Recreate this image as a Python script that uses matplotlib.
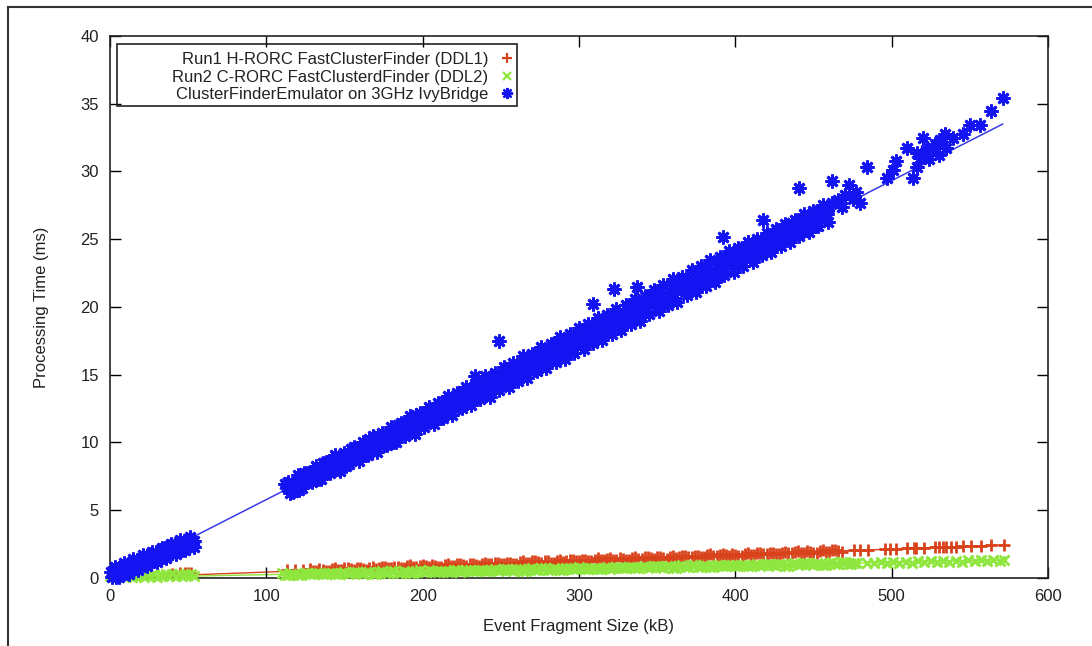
import matplotlib.pyplot as plt
from matplotlib.lines import Line2D
from matplotlib.patches import Rectangle

plt.rcParams['font.family'] = ['Liberation Sans', 'DejaVu Sans']

# Legend labels
labels = ['Run1 H-RORC FastClusterFinder (DDL1)',
          'Run2 C-RORC FastClusterdFinder (DDL2)',
          'ClusterFinderEmulator on 3GHz IvyBridge']

# Run1 H-RORC (red +)
red_x = [40, 45, 48, 50, 52, 113, 118.4, 123.7,
         128, 132, 136, 140, 144, 148, 152, 156, 160, 164,
         168, 172, 176, 180, 184, 188, 192, 196, 200, 204,
         208, 212, 216, 220, 224, 228, 232, 236, 240, 244,
         248, 252, 256, 260, 264, 268, 272, 276, 280, 284,
         288, 292, 296, 300, 304, 308, 312, 316, 320, 324,
         328, 332, 336, 340, 344, 348, 352, 356, 360, 364,
         368, 372, 376, 380, 384, 388, 392, 396, 400, 404,
         408, 412, 416, 420, 424, 428, 432, 436, 440, 444,
         448, 452, 456, 460, 464, 468,
         475.7, 480, 484.6, 496, 499, 502.6, 510, 514, 515.4, 520.5,
         528, 530, 532.6, 534.6, 537.8, 541, 545.5, 550.6, 557, 563.4, 571.7]
red_y = [0.30, 0.35, 0.40, 0.40, 0.38, 0.57, 0.60, 0.62,
         0.63, 0.51, 0.61, 0.52, 0.72, 0.61, 0.74, 0.61, 0.71, 0.62,
         0.82, 0.71, 0.84, 0.72, 0.81, 0.72, 0.93, 0.81, 0.94, 0.82,
         0.91, 0.82, 1.03, 0.92, 1.04, 0.92, 1.02, 0.92, 1.13, 1.02,
         1.14, 1.02, 1.12, 1.03, 1.23, 1.12, 1.25, 1.12, 1.22, 1.13,
         1.33, 1.22, 1.35, 1.23, 1.32, 1.23, 1.44, 1.32, 1.45, 1.33,
         1.42, 1.33, 1.54, 1.43, 1.55, 1.43, 1.53, 1.43, 1.64, 1.53,
         1.65, 1.53, 1.63, 1.54, 1.74, 1.63, 1.76, 1.63, 1.73, 1.64,
         1.84, 1.73, 1.86, 1.74, 1.83, 1.74, 1.95, 1.83, 1.96, 1.84,
         1.93, 1.84, 2.05, 1.94, 2.06, 1.94,
         2.03, 2.05, 2.07, 2.12, 2.13, 2.15, 2.18, 2.20, 2.20, 2.22,
         2.25, 2.26, 2.27, 2.28, 2.30, 2.31, 2.33, 2.35, 2.38, 2.40, 2.44]
red_row2_x = [130, 134, 138, 142, 146, 150, 154, 158, 162, 166,
              170, 174, 178, 182, 186, 190, 194, 198, 202, 206,
              210, 214, 218, 222, 226, 230, 234, 238, 242, 246,
              250, 254, 258, 262, 266, 270, 274, 278, 282, 286,
              290, 294, 298, 302, 306, 310, 314, 318, 322, 326,
              330, 334, 338, 342, 346, 350, 354, 358, 362, 366,
              370, 374, 378, 382, 386, 390, 394, 398, 402, 406,
              410, 414, 418, 422, 426, 430, 434, 438, 442, 446,
              450, 454, 458, 462, 466]
red_row2_y = [0.54, 0.63, 0.53, 0.64, 0.59, 0.71, 0.65, 0.73, 0.63, 0.75,
              0.69, 0.81, 0.75, 0.83, 0.73, 0.85, 0.80, 0.91, 0.85, 0.94,
              0.83, 0.95, 0.90, 1.01, 0.95, 1.04, 0.94, 1.05, 1.00, 1.12,
              1.05, 1.14, 1.04, 1.15, 1.10, 1.22, 1.15, 1.24, 1.14, 1.26,
              1.20, 1.32, 1.26, 1.34, 1.24, 1.36, 1.30, 1.42, 1.36, 1.45,
              1.34, 1.46, 1.41, 1.52, 1.46, 1.55, 1.44, 1.56, 1.51, 1.63,
              1.56, 1.65, 1.55, 1.66, 1.61, 1.73, 1.66, 1.75, 1.65, 1.77,
              1.71, 1.83, 1.77, 1.85, 1.75, 1.87, 1.82, 1.93, 1.87, 1.96,
              1.85, 1.97, 1.92, 2.03, 1.97]
red_fit_x = [0, 572]
red_fit_y = [0.01, 2.44]

# Run2 C-RORC (green x)
green_x = [0, 2, 4, 6, 8, 10, 12, 14, 16, 18, 20, 22, 24, 26,
           28, 30, 32, 34, 36, 38, 40, 42, 44, 46, 48, 50, 52, 54,
           110, 114, 118, 122, 126, 130, 134, 138, 142, 146,
           150, 154, 158, 162, 166, 170, 174, 178, 182, 186,
           190, 194, 198, 202, 206, 210, 214, 218, 222, 226,
           230, 234, 238, 242, 246, 250, 254, 258, 262, 266,
           270, 274, 278, 282, 286, 290, 294, 298, 302, 306,
           310, 314, 318, 322, 326, 330, 334, 338, 342, 346,
           350, 354, 358, 362, 366, 370, 374, 378, 382, 386,
           390, 394, 398, 402, 406, 410, 414, 418, 422, 426,
           430, 434, 438, 442, 446, 450, 454, 458, 462, 466,
           470, 474, 478,
           484, 489, 493, 497, 501, 505, 509, 513, 517, 521, 525, 529,
           533, 537, 541, 545, 549, 553, 557, 561, 565, 569, 572]
green_y = [0.12, 0.04, 0.18, 0.08, 0.20, 0.10, 0.22, 0.06, 0.20, 0.12, 0.25, 0.10, 0.22, 0.14,
           0.26, 0.10, 0.24, 0.16, 0.28, 0.12, 0.26, 0.18, 0.30, 0.14, 0.28, 0.20, 0.30, 0.18,
           0.34, 0.22, 0.31, 0.22, 0.39, 0.29, 0.39, 0.27, 0.36, 0.27,
           0.45, 0.35, 0.45, 0.33, 0.41, 0.32, 0.50, 0.40, 0.50, 0.38,
           0.47, 0.38, 0.56, 0.46, 0.55, 0.43, 0.52, 0.43, 0.61, 0.51,
           0.61, 0.49, 0.58, 0.49, 0.66, 0.56, 0.66, 0.54, 0.63, 0.54,
           0.72, 0.62, 0.72, 0.60, 0.68, 0.59, 0.77, 0.67, 0.77, 0.65,
           0.74, 0.65, 0.83, 0.73, 0.82, 0.70, 0.79, 0.70, 0.88, 0.78,
           0.88, 0.76, 0.85, 0.76, 0.93, 0.83, 0.93, 0.81, 0.90, 0.81,
           0.99, 0.89, 0.99, 0.87, 0.95, 0.86, 1.04, 0.94, 1.04, 0.92,
           1.01, 0.92, 1.10, 1.00, 1.09, 0.97, 1.06, 0.97, 1.15, 1.05,
           1.15, 1.03, 1.12,
           1.11, 1.12, 1.17, 1.10, 1.19, 1.12, 1.21, 1.13, 1.22, 1.15, 1.24, 1.17,
           1.26, 1.19, 1.28, 1.21, 1.30, 1.22, 1.31, 1.24, 1.33, 1.26, 1.32]
green_row2_x = [112, 116, 120, 124, 128, 132, 136, 140, 144, 148,
                152, 156, 160, 164, 168, 172, 176, 180, 184, 188,
                192, 196, 200, 204, 208, 212, 216, 220, 224, 228,
                232, 236, 240, 244, 248, 252, 256, 260, 264, 268,
                272, 276, 280, 284, 288, 292, 296, 300, 304, 308,
                312, 316, 320, 324, 328, 332, 336, 340, 344, 348,
                352, 356, 360, 364, 368, 372, 376, 380, 384, 388,
                392, 396, 400, 404, 408, 412, 416, 420, 424, 428,
                432, 436, 440, 444, 448, 452, 456, 460, 464, 468,
                472, 476]
green_row2_y = [0.24, 0.33, 0.22, 0.34, 0.26, 0.40, 0.30, 0.39, 0.27, 0.39,
                0.31, 0.45, 0.35, 0.44, 0.33, 0.45, 0.37, 0.51, 0.40, 0.49,
                0.38, 0.50, 0.42, 0.56, 0.46, 0.55, 0.44, 0.56, 0.47, 0.61,
                0.51, 0.60, 0.49, 0.61, 0.53, 0.67, 0.57, 0.66, 0.54, 0.66,
                0.58, 0.72, 0.62, 0.71, 0.60, 0.72, 0.64, 0.78, 0.67, 0.76,
                0.65, 0.77, 0.69, 0.83, 0.73, 0.82, 0.71, 0.83, 0.74, 0.88,
                0.78, 0.87, 0.76, 0.88, 0.80, 0.94, 0.84, 0.93, 0.81, 0.93,
                0.85, 0.99, 0.89, 0.98, 0.87, 0.99, 0.91, 1.05, 0.94, 1.03,
                0.92, 1.04, 0.96, 1.10, 1.00, 1.09, 0.98, 1.10, 1.01, 1.15,
                1.05, 1.14]
green_fit_x = [0, 572]
green_fit_y = [0.02, 1.31]

# Emulator (blue *): small-fragment cluster, dense band, outliers and tail
blue_x = [0.5, 1.5, 2.5, 4, 5.5, 7, 8.5, 10, 11.5, 13, 14.5, 16, 17.5, 19,
          20.5, 22, 23.5, 25, 26.5, 28, 29.5, 31, 32.5, 34, 35.5, 37, 38.5,
          40, 41.5, 43, 44.5, 46, 47.5, 49, 50.5, 52, 53.5,
          112, 115, 118, 121, 124, 127, 130, 133, 136, 139,
          142, 145, 148, 151, 154, 157, 160, 163, 166, 169,
          172, 175, 178, 181, 184, 187, 190, 193, 196, 199,
          202, 205, 208, 211, 214, 217, 220, 223, 226, 229,
          232, 235, 238, 241, 244, 247, 250, 253, 256, 259,
          262, 265, 268, 271, 274, 277, 280, 283, 286, 289,
          292, 295, 298, 301, 304, 307, 310, 313, 316, 319,
          322, 325, 328, 331, 334, 337, 340, 343, 346, 349,
          352, 355, 358, 361, 364, 367, 370, 373, 376, 379,
          382, 385, 388, 391, 394, 397, 400, 403, 406, 409,
          412, 415, 418, 421, 424, 427, 430, 433, 436, 439,
          442, 445, 448, 451, 454, 457, 460,
          233.7, 249, 309, 322.7, 337, 392, 417.5, 441, 443, 447.6,
          461.7, 462, 466, 468, 470, 473, 475, 477.5, 479.6, 484,
          497, 501, 503, 509.5, 513.7, 516, 516, 518, 520, 522,
          524, 526.5, 528, 530, 531, 534, 535, 539, 545.5, 550,
          556.5, 563.5, 571]
blue_y = [0.45, 0.05, 0.50, 0.10, 0.75, 0.30, 0.90, 0.40, 1.00, 0.55, 1.20, 0.70, 1.35, 0.85,
          1.45, 0.95, 1.65, 1.10, 1.75, 1.25, 1.90, 1.40, 2.05, 1.55, 2.20, 1.70, 2.35,
          1.85, 2.50, 2.00, 2.65, 2.10, 2.70, 2.30, 2.80, 2.40, 2.75,
          6.96, 6.29, 6.96, 6.49, 7.72, 7.19, 7.92, 7.30, 8.52, 7.80,
          8.73, 8.06, 8.73, 8.26, 9.49, 8.96, 9.69, 9.07, 10.29, 9.57,
          10.50, 9.83, 10.50, 10.03, 11.26, 10.73, 11.46, 10.84, 12.06, 11.34,
          12.27, 11.59, 12.27, 11.80, 13.03, 12.50, 13.23, 12.61, 13.83, 13.11,
          14.04, 13.37, 14.04, 13.57, 14.80, 14.27, 15.00, 14.38, 15.60, 14.88,
          15.81, 15.14, 15.81, 15.34, 16.57, 16.04, 16.77, 16.15, 17.37, 16.65,
          17.58, 16.91, 17.58, 17.11, 18.34, 17.81, 18.54, 17.92, 19.14, 18.42,
          19.35, 18.68, 19.35, 18.88, 20.11, 19.58, 20.31, 19.69, 20.91, 20.19,
          21.12, 20.45, 21.12, 20.65, 21.88, 21.35, 22.08, 21.46, 22.68, 21.96,
          22.89, 22.22, 22.89, 22.42, 23.65, 23.12, 23.85, 23.23, 24.45, 23.73,
          24.66, 23.99, 24.66, 24.19, 25.42, 24.89, 25.62, 25.00, 26.22, 25.50,
          26.43, 25.76, 26.43, 25.96, 27.19, 26.66, 27.39,
          14.9, 17.5, 20.2, 21.3, 21.5, 25.2, 26.4, 28.8, 25.5, 26.6,
          29.3, 27.7, 27.9, 27.4, 28.3, 29.0, 28.0, 28.5, 27.7, 30.3,
          29.5, 30.1, 30.8, 31.7, 29.5, 30.3, 31.4, 31.0, 32.5, 31.6,
          30.9, 31.7, 32.0, 31.2, 32.3, 32.8, 31.7, 32.5, 32.8, 33.4,
          33.4, 34.5, 35.4]
blue_mid_x = [113.5, 116.5, 119.5, 122.5, 125.5, 128.5, 131.5, 134.5, 137.5, 140.5,
              143.5, 146.5, 149.5, 152.5, 155.5, 158.5, 161.5, 164.5, 167.5, 170.5,
              173.5, 176.5, 179.5, 182.5, 185.5, 188.5, 191.5, 194.5, 197.5, 200.5,
              203.5, 206.5, 209.5, 212.5, 215.5, 218.5, 221.5, 224.5, 227.5, 230.5,
              233.5, 236.5, 239.5, 242.5, 245.5, 248.5, 251.5, 254.5, 257.5, 260.5,
              263.5, 266.5, 269.5, 272.5, 275.5, 278.5, 281.5, 284.5, 287.5, 290.5,
              293.5, 296.5, 299.5, 302.5, 305.5, 308.5, 311.5, 314.5, 317.5, 320.5,
              323.5, 326.5, 329.5, 332.5, 335.5, 338.5, 341.5, 344.5, 347.5, 350.5,
              353.5, 356.5, 359.5, 362.5, 365.5, 368.5, 371.5, 374.5, 377.5, 380.5,
              383.5, 386.5, 389.5, 392.5, 395.5, 398.5, 401.5, 404.5, 407.5, 410.5,
              413.5, 416.5, 419.5, 422.5, 425.5, 428.5, 431.5, 434.5, 437.5, 440.5,
              443.5, 446.5, 449.5, 452.5, 455.5, 458.5]
blue_mid_y = [6.75, 6.67, 7.00, 6.93, 7.50, 7.48, 7.81, 7.74, 8.06, 7.99,
              8.57, 8.54, 8.87, 8.80, 9.12, 9.05, 9.63, 9.61, 9.93, 9.86,
              10.19, 10.11, 10.69, 10.67, 11.00, 10.92, 11.25, 11.18, 11.75, 11.73,
              12.06, 11.98, 12.31, 12.24, 12.81, 12.79, 13.12, 13.05, 13.37, 13.30,
              13.88, 13.85, 14.18, 14.11, 14.43, 14.36, 14.94, 14.92, 15.24, 15.17,
              15.50, 15.42, 16.00, 15.98, 16.30, 16.23, 16.56, 16.49, 17.06, 17.04,
              17.37, 17.29, 17.62, 17.55, 18.12, 18.10, 18.43, 18.36, 18.68, 18.61,
              19.19, 19.16, 19.49, 19.42, 19.74, 19.67, 20.25, 20.23, 20.55, 20.48,
              20.81, 20.73, 21.31, 21.29, 21.61, 21.54, 21.87, 21.80, 22.37, 22.35,
              22.68, 22.60, 22.93, 22.86, 23.43, 23.41, 23.74, 23.67, 23.99, 23.92,
              24.50, 24.47, 24.80, 24.73, 25.05, 24.98, 25.56, 25.54, 25.86, 25.79,
              26.12, 26.04, 26.62, 26.60, 26.92, 26.85]
# upper and lower edges of the dense band, and of the small-fragment cluster
blue_hi_x = [3, 9, 15, 21, 27, 33, 39, 45, 51,
             114, 120, 126, 132, 138, 144, 150, 156, 162, 168,
             174, 180, 186, 192, 198, 204, 210, 216, 222, 228,
             234, 240, 246, 252, 258, 264, 270, 276, 282, 288,
             294, 300, 306, 312, 318, 324, 330, 336, 342, 348,
             354, 360, 366, 372, 378, 384, 390, 396, 402, 408,
             414, 420, 426, 432, 438, 444, 450, 456]
blue_hi_y = [0.79, 1.08, 1.37, 1.66, 1.95, 2.23, 2.52, 2.81, 3.00,
             7.08, 7.58, 7.73, 8.24, 8.54, 9.05, 9.20, 9.70, 10.01, 10.51,
             10.72, 11.17, 11.47, 11.98, 12.18, 12.64, 12.94, 13.44, 13.65, 14.10,
             14.41, 14.91, 15.11, 15.57, 15.87, 16.38, 16.53, 17.03, 17.29, 17.79,
             18.00, 18.45, 18.75, 19.21, 19.41, 19.87, 20.17, 20.62, 20.83, 21.28,
             21.59, 22.04, 22.24, 22.70, 23.00, 23.46, 23.66, 24.11, 24.37, 24.77,
             25.03, 25.48, 25.73, 26.14, 26.39, 26.85, 27.10, 27.50]
blue_lo_x = [6, 12, 18, 24, 30, 36, 42, 48, 54,
             117, 123, 129, 135, 141, 147, 153, 159, 165, 171,
             177, 183, 189, 195, 201, 207, 213, 219, 225, 231,
             237, 243, 249, 255, 261, 267, 273, 279, 285, 291,
             297, 303, 309, 315, 321, 327, 333, 339, 345, 351,
             357, 363, 369, 375, 381, 387, 393, 399, 405, 411,
             417, 423, 429, 435, 441, 447, 453, 459]
blue_lo_y = [0.04, 0.33, 0.61, 0.90, 1.19, 1.48, 1.77, 2.05, 2.30,
             6.35, 6.61, 7.11, 7.27, 7.72, 7.92, 8.43, 8.63, 9.09, 9.29,
             9.79, 10.00, 10.45, 10.66, 11.16, 11.36, 11.82, 12.02, 12.53, 12.73,
             13.18, 13.39, 13.89, 14.10, 14.55, 14.75, 15.26, 15.46, 15.97, 16.17,
             16.62, 16.88, 17.33, 17.54, 18.04, 18.29, 18.75, 18.95, 19.46, 19.71,
             20.16, 20.37, 20.87, 21.13, 21.58, 21.83, 22.34, 22.59, 23.05, 23.35,
             23.80, 24.06, 24.51, 24.82, 25.27, 25.52, 25.98, 26.28]
blue_fit_x = [0, 571]
blue_fit_y = [-0.1, 33.5]

red_c = '#d9431c'
green_c = '#8fe63e'
blue_c = '#1414f2'
blue_star = (8, 2, 0)

fig, ax = plt.subplots(figsize=(10.92, 6.46), dpi=100)
fig.subplots_adjust(left=0.1007, right=0.9597, bottom=0.1053, top=0.9443)

# fit lines under the points
ax.plot(red_fit_x, red_fit_y, color=red_c, lw=1.0, zorder=1)
ax.plot(green_fit_x, green_fit_y, color=green_c, lw=1.0, zorder=1)
ax.plot(blue_fit_x, blue_fit_y, color='#3a3ae6', lw=1.1, zorder=1)

red_style = dict(ls='none', marker='+', ms=8, mew=2.0, color=red_c, clip_on=False)
green_style = dict(ls='none', marker='x', ms=6.5, mew=2.0, color=green_c, clip_on=False)
blue_style = dict(ls='none', marker=blue_star, ms=10, mew=2.0, color=blue_c, clip_on=False)

ax.plot(red_x + red_row2_x, red_y + red_row2_y, zorder=2, **red_style)
ax.plot(green_x + green_row2_x, green_y + green_row2_y, zorder=3, **green_style)
ax.plot(blue_x + blue_mid_x + blue_hi_x + blue_lo_x,
        blue_y + blue_mid_y + blue_hi_y + blue_lo_y, zorder=4, **blue_style)

ax.set_xlim(0, 600)
ax.set_ylim(0, 40)
ax.set_xticks(range(0, 601, 100))
ax.set_yticks(range(0, 41, 5))
ax.tick_params(direction='in', top=True, right=True, length=8, width=1,
               labelsize=12, labelcolor='#222222', pad=8)
for s in ax.spines.values():
    s.set_linewidth(1.2)
    s.set_color('#222222')

ax.set_xlabel('Event Fragment Size (kB)', fontsize=12, color='#222222')
ax.set_ylabel('Processing Time (ms)', fontsize=12, color='#222222')
ax.xaxis.set_label_coords(0.5, -0.075)
ax.yaxis.set_label_coords(-0.065, 0.5)

# legend: text right-aligned, marker after the text, in a boxed frame
handles = [Line2D([], [], **dict(red_style, ms=7, mew=1.6, clip_on=True)),
           Line2D([], [], **dict(green_style, ms=6, mew=1.6, clip_on=True)),
           Line2D([], [], **dict(blue_style, ms=8, mew=1.6, clip_on=True))]
leg = ax.legend(handles, labels, loc='upper right', bbox_to_anchor=(0.446, 0.995),
                frameon=False, markerfirst=False, fontsize=12, handlelength=1.0,
                handletextpad=0.6, labelspacing=0.15, borderpad=0.3)
for t in leg.get_texts():
    t.set_color('#222222')
ax.add_patch(Rectangle((0.0075, 0.8708), 0.4264, 0.1144, transform=ax.transAxes,
                       fill=False, ec='#222222', lw=1.2, zorder=5))

# outer frame of the page
fig.add_artist(Line2D([8 / 1092, 8 / 1092], [0, 1 - 7 / 646], transform=fig.transFigure,
                      color='#333333', lw=1.5))
fig.add_artist(Line2D([8 / 1092, 1], [1 - 7 / 646, 1 - 7 / 646], transform=fig.transFigure,
                      color='#333333', lw=1.5))

fig.savefig('out.png', dpi=100, facecolor='white')
